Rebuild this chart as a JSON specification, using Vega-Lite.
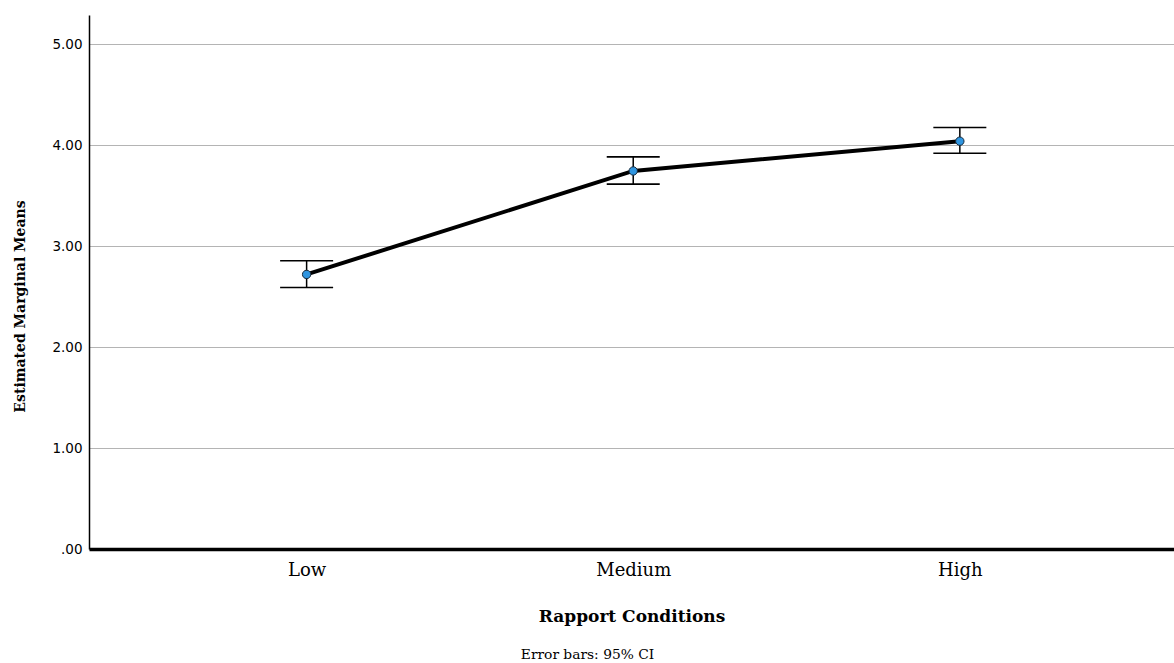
{
  "$schema": "https://vega.github.io/schema/vega-lite/v6.json",
  "autosize": "none",
  "width": 1085,
  "height": 534,
  "padding": {"left": 89, "top": 15, "right": 0, "bottom": 114},
  "background": "white",
  "config": {"view": {"stroke": null}},
  "title": {"text": "Error bars: 95% CI", "orient": "bottom", "anchor": "middle", "font": "DejaVu Serif", "fontSize": 13.8, "fontWeight": "normal", "color": "#000", "offset": 24, "dx": -44},
  "data": {"values": [
    {"cond": "Low", "mean": 2.72, "lo": 2.59, "hi": 2.855},
    {"cond": "Medium", "mean": 3.745, "lo": 3.615, "hi": 3.885},
    {"cond": "High", "mean": 4.04, "lo": 3.92, "hi": 4.175}
  ]},
  "encoding": {
    "x": {"field": "cond", "type": "nominal", "sort": ["Low", "Medium", "High"],
      "scale": {"type": "point", "padding": 0.661, "align": 0.504},
      "axis": {"title": "Rapport Conditions", "titleFont": "DejaVu Serif", "titleFontSize": 17, "titleFontWeight": "bold", "titleColor": "#000", "titlePadding": 29,
        "labelFont": "DejaVu Serif", "labelFontSize": 18, "labelColor": "#000", "labelPadding": 12, "ticks": false,
        "domainColor": "#000", "domainWidth": 3.5, "labelAngle": 0, "grid": false}}
  },
  "layer": [
    {"mark": {"type": "rule", "stroke": "#000", "strokeWidth": 1.5},
      "encoding": {
        "y": {"field": "lo", "type": "quantitative", "scale": {"domain": [0, 5.29], "nice": false, "zero": true},
          "axis": {"title": "Estimated Marginal Means", "titleFont": "DejaVu Serif", "titleFontSize": 14, "titleFontWeight": "bold", "titleColor": "#000",
            "titleX": -69, "titleY": 291, "titleAngle": -90, "titleAlign": "center", "titleBaseline": "middle",
            "values": [0, 1, 2, 3, 4, 5], "labelExpr": "datum.value == 0 ? '.00' : format(datum.value, '.2f')",
            "labelFont": "DejaVu Sans", "labelFontSize": 13.5, "labelColor": "#000", "labelPadding": 7, "ticks": false,
            "domainColor": "#000", "domainWidth": 1.5,
            "grid": true, "gridColor": "#b4b4b4", "gridWidth": 1.2}},
        "y2": {"field": "hi"}
      }},
    {"mark": {"type": "tick", "color": "#000", "size": 53, "thickness": 1.6, "orient": "horizontal", "opacity": 1},
      "encoding": {"y": {"field": "lo", "type": "quantitative"}}},
    {"mark": {"type": "tick", "color": "#000", "size": 53, "thickness": 1.6, "orient": "horizontal", "opacity": 1},
      "encoding": {"y": {"field": "hi", "type": "quantitative"}}},
    {"mark": {"type": "line", "stroke": "#000", "strokeWidth": 4},
      "encoding": {"y": {"field": "mean", "type": "quantitative"}}},
    {"mark": {"type": "point", "filled": true, "fill": "#2f95e0", "stroke": "#1a2a3a", "strokeWidth": 1, "size": 70, "opacity": 1},
      "encoding": {"y": {"field": "mean", "type": "quantitative"}}}
  ]
}
